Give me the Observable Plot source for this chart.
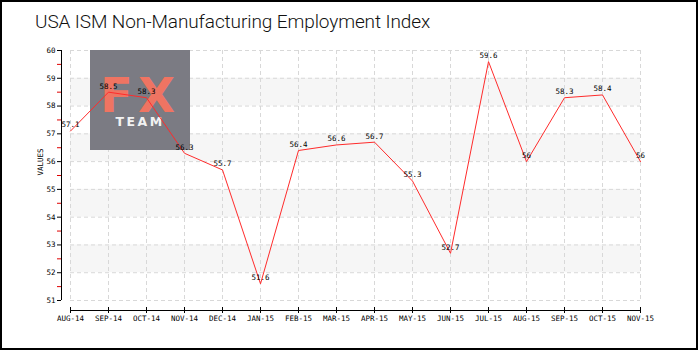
<!DOCTYPE html>
<html>
<head>
<meta charset="utf-8">
<script src="https://cdn.jsdelivr.net/npm/d3@7"></script>
<script src="https://cdn.jsdelivr.net/npm/@observablehq/plot@0.6"></script>
<style>
  body { margin: 0; background: #fff; }
  #wrap { position: relative; width: 700px; height: 350px; overflow: hidden; background: #fff; }
  #border { position: absolute; left: 0; top: 0; width: 698px; height: 350px; box-sizing: border-box; border: 2px solid #000; pointer-events: none; }
  #title { position: absolute; left: 35px; top: 10px; font-family: Roboto, sans-serif; font-weight: 300; font-size: 19px; color: #111; white-space: nowrap; letter-spacing: -0.1px; }
  #chart { position: absolute; left: 0; top: 0; }
</style>
</head>
<body>
<div id="wrap">
  <div id="chart"></div>
  <div id="title">USA ISM Non-Manufacturing Employment Index</div>
  <div id="border"></div>
</div>
<script>
const months = ["AUG-14","SEP-14","OCT-14","NOV-14","DEC-14","JAN-15","FEB-15","MAR-15","APR-15","MAY-15","JUN-15","JUL-15","AUG-15","SEP-15","OCT-15","NOV-15"];
const values = [57.1, 58.5, 58.3, 56.3, 55.7, 51.6, 56.4, 56.6, 56.7, 55.3, 52.7, 59.6, 56, 58.3, 58.4, 56];
const labels = ["57.1","58.5","58.3","56.3","55.7","51.6","56.4","56.6","56.7","55.3","52.7","59.6","56","58.3","58.4","56"];
const yTicks = [51, 52, 53, 54, 55, 56, 57, 58, 59, 60];
const yMinorTicks = [51.5, 52.5, 53.5, 54.5, 55.5, 56.5, 57.5, 58.5, 59.5];
const bandLow = [52, 54, 56, 58];
const bandHigh = [53, 55, 57, 59];
const yMin = 51, yMax = 60;

const data = months.map((m, i) => ({month: m, value: values[i], label: labels[i]}));
const bands = bandLow.map((lo, i) => ({y1: lo, y2: bandHigh[i]}));

const tickFont = "DejaVu Sans Mono, monospace";

const chart = Plot.plot({
  width: 700,
  height: 350,
  marginTop: 50,
  marginBottom: 50,
  marginLeft: 70,
  marginRight: 60,
  style: {background: "transparent", fontFamily: tickFont, fontSize: "7.5px", color: "#000"},
  x: {type: "point", domain: months, padding: 0},
  y: {domain: [yMin, yMax]},
  marks: [
    Plot.rect(bands, {y1: "y1", y2: "y2", fill: "#f6f6f6"}),
    Plot.gridX(months, {stroke: "#d8d8d8", strokeOpacity: 1, strokeDasharray: "4,3"}),
    Plot.gridY(yTicks, {stroke: "#d8d8d8", strokeOpacity: 1, strokeDasharray: "4,3"}),
    Plot.ruleX([months[0]], {y1: yMin, y2: yMax, dx: -9, stroke: "#000"}),
    Plot.ruleY([yMin], {dy: 10, stroke: "#000"}),
    Plot.axisY(yMinorTicks, {dx: -9, tickSize: 4, text: null, stroke: "#e00000", label: null}),
    Plot.axisY(yTicks, {dx: -9, tickSize: 4, tickPadding: 2, label: null, fontFamily: tickFont, fontSize: 7.5}),
    Plot.axisX(months, {dy: 7, tickSize: 6, tickPadding: 2, label: null, fontFamily: tickFont, fontSize: 7.5}),
    Plot.text(["VALUES"], {frameAnchor: "left", rotate: -90, dx: -30, fontFamily: tickFont, fontSize: 7.5}),
    Plot.line(data, {x: "month", y: "value", stroke: "#ff2b2b", strokeWidth: 1}),
    Plot.text(data, {x: "month", y: "value", text: "label", dy: -6, fill: "#000", fontFamily: tickFont, fontSize: 7.5})
  ]
});
document.getElementById("chart").appendChild(chart);

// Watermark logo (decoration), placed behind the line
const svgNS = "http://www.w3.org/2000/svg";
const wm = document.createElementNS(svgNS, "g");
wm.innerHTML = `
  <rect x="90" y="50" width="100" height="100" fill="#7b7b83"/>
  <text x="140" y="112" text-anchor="middle" font-family="DejaVu Sans, sans-serif" font-weight="bold" font-size="48" letter-spacing="5" fill="#ef7462">FX</text>
  <text x="140" y="126" text-anchor="middle" font-family="DejaVu Sans, sans-serif" font-weight="bold" font-size="12.5" letter-spacing="2.5" fill="#f2f2f2">TEAM</text>`;
const lineG = chart.querySelector('g[aria-label="line"]');
if (lineG) chart.insertBefore(wm, lineG); else chart.appendChild(wm);
</script>
</body>
</html>
